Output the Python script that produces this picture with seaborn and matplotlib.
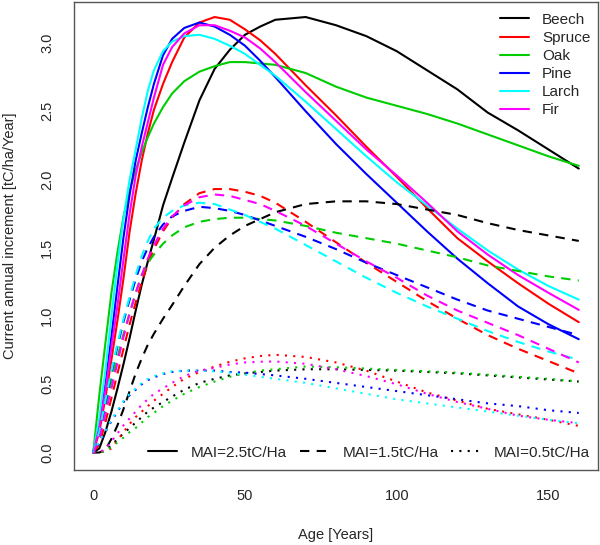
import numpy as np
import matplotlib
matplotlib.use("Agg")
import matplotlib.pyplot as plt
from matplotlib.lines import Line2D
import seaborn as sns

age = [0, 2, 4, 6, 8, 10, 12, 14, 16, 18, 20, 23, 26, 30, 35, 40, 45, 50, 55, 60,
       70, 80, 90, 100, 110, 120, 130, 140, 150, 160]

species = ["Beech", "Spruce", "Oak", "Pine", "Larch", "Fir"]
colours = ["#000000", "#FF0000", "#00CD00", "#0000FF", "#00FFFF", "#FF00FF"]

# MAI = 2.5 tC/ha (solid)
beech_25 = [0, 0.03, 0.15, 0.3, 0.47, 0.65, 0.84, 1.04, 1.23, 1.40, 1.56, 1.81, 2.01, 2.27, 2.58, 2.81, 2.95, 3.06, 3.12, 3.17,
            3.19, 3.13, 3.05, 2.94, 2.80, 2.66, 2.49, 2.36, 2.22, 2.08]
spruce_25 = [0, 0.15, 0.4, 0.68, 0.97, 1.28, 1.62, 1.90, 2.14, 2.34, 2.51, 2.70, 2.86, 3.04, 3.15, 3.19, 3.17, 3.10, 3.02, 2.92,
             2.69, 2.47, 2.24, 2.02, 1.79, 1.57, 1.40, 1.24, 1.09, 0.955]
oak_25 = [0, 0.42, 0.8, 1.17, 1.47, 1.73, 1.92, 2.07, 2.2, 2.31, 2.41, 2.53, 2.63, 2.72, 2.79, 2.83, 2.86, 2.86, 2.85, 2.84,
          2.78, 2.68, 2.60, 2.54, 2.48, 2.41, 2.33, 2.25, 2.17, 2.10]
pine_25 = [0, 0.2, 0.5, 0.85, 1.22, 1.58, 1.89, 2.14, 2.34, 2.53, 2.70, 2.91, 3.03, 3.11, 3.15, 3.12, 3.06, 2.98, 2.87, 2.75,
           2.50, 2.26, 2.04, 1.83, 1.62, 1.42, 1.24, 1.07, 0.94, 0.83]
larch_25 = [0, 0.25, 0.6, 1.0, 1.38, 1.72, 2.0, 2.22, 2.45, 2.65, 2.80, 2.94, 3.01, 3.05, 3.06, 3.03, 2.98, 2.92, 2.84, 2.76,
            2.57, 2.37, 2.17, 1.98, 1.81, 1.64, 1.48, 1.34, 1.22, 1.12]
fir_25 = [0, 0.18, 0.45, 0.77, 1.08, 1.42, 1.75, 2.03, 2.24, 2.42, 2.60, 2.84, 2.97, 3.07, 3.13, 3.13, 3.09, 3.04, 2.96, 2.86,
          2.64, 2.43, 2.22, 2.03, 1.83, 1.62, 1.45, 1.30, 1.17, 1.045]

# MAI = 1.5 tC/ha (dashed)
beech_15 = [0, 0.0, 0.02, 0.1, 0.2, 0.32, 0.45, 0.58, 0.69, 0.79, 0.87, 0.98, 1.08, 1.22, 1.38, 1.50, 1.59, 1.66, 1.71, 1.76,
            1.82, 1.84, 1.84, 1.82, 1.78, 1.74, 1.68, 1.63, 1.59, 1.55]
spruce_15 = [0, 0.06, 0.22, 0.4, 0.58, 0.76, 0.94, 1.1, 1.25, 1.38, 1.49, 1.62, 1.72, 1.82, 1.90, 1.93, 1.93, 1.91, 1.88, 1.83,
             1.69, 1.54, 1.39, 1.25, 1.11, 0.98, 0.86, 0.76, 0.67, 0.58]
oak_15 = [0, 0.14, 0.33, 0.52, 0.7, 0.87, 1.02, 1.17, 1.3, 1.39, 1.45, 1.53, 1.59, 1.65, 1.69, 1.71, 1.72, 1.72, 1.71, 1.70,
          1.66, 1.61, 1.57, 1.53, 1.48, 1.43, 1.37, 1.33, 1.29, 1.26]
pine_15 = [0, 0.14, 0.36, 0.58, 0.78, 0.96, 1.12, 1.27, 1.4, 1.5, 1.58, 1.67, 1.73, 1.77, 1.80, 1.79, 1.77, 1.74, 1.70, 1.66,
           1.58, 1.49, 1.39, 1.30, 1.21, 1.12, 1.04, 0.98, 0.92, 0.86]
larch_15 = [0, 0.15, 0.38, 0.6, 0.8, 0.98, 1.14, 1.3, 1.44, 1.55, 1.64, 1.72, 1.77, 1.81, 1.83, 1.82, 1.78, 1.74, 1.69, 1.64,
            1.52, 1.40, 1.28, 1.17, 1.07, 0.98, 0.89, 0.81, 0.74, 0.68]
fir_15 = [0, 0.1, 0.28, 0.47, 0.66, 0.85, 1.02, 1.17, 1.3, 1.42, 1.52, 1.64, 1.73, 1.81, 1.87, 1.89, 1.88, 1.85, 1.82, 1.77,
          1.66, 1.53, 1.40, 1.28, 1.15, 1.04, 0.95, 0.86, 0.76, 0.66]

# MAI = 0.5 tC/ha (dotted)
beech_05 = [0, 0.0, 0.02, 0.05, 0.1, 0.14, 0.18, 0.22, 0.26, 0.3, 0.33, 0.37, 0.41, 0.46, 0.51, 0.54, 0.565, 0.58, 0.59, 0.60,
            0.61, 0.61, 0.605, 0.60, 0.59, 0.58, 0.565, 0.55, 0.535, 0.52]
spruce_05 = [0, 0.0, 0.01, 0.03, 0.09, 0.15, 0.21, 0.26, 0.3, 0.34, 0.38, 0.43, 0.48, 0.54, 0.59, 0.63, 0.665, 0.69, 0.707, 0.716,
             0.70, 0.66, 0.60, 0.52, 0.44, 0.38, 0.32, 0.28, 0.24, 0.195]
oak_05 = [0, 0.0, 0.01, 0.04, 0.075, 0.11, 0.15, 0.18, 0.22, 0.26, 0.29, 0.34, 0.38, 0.43, 0.48, 0.52, 0.555, 0.58, 0.60, 0.61,
          0.63, 0.625, 0.615, 0.605, 0.595, 0.585, 0.57, 0.555, 0.54, 0.52]
pine_05 = [0, 0.07, 0.15, 0.23, 0.3, 0.37, 0.42, 0.46, 0.5, 0.53, 0.55, 0.575, 0.59, 0.60, 0.60, 0.60, 0.59, 0.585, 0.575, 0.565,
           0.54, 0.51, 0.48, 0.45, 0.42, 0.39, 0.36, 0.34, 0.31, 0.29]
larch_05 = [0, 0.08, 0.16, 0.24, 0.31, 0.38, 0.43, 0.47, 0.51, 0.54, 0.56, 0.58, 0.595, 0.60, 0.60, 0.595, 0.585, 0.57, 0.555, 0.54,
            0.51, 0.47, 0.43, 0.39, 0.36, 0.33, 0.30, 0.27, 0.24, 0.215]
fir_05 = [0, 0.0, 0.03, 0.08, 0.14, 0.2, 0.25, 0.3, 0.35, 0.39, 0.43, 0.47, 0.51, 0.56, 0.60, 0.62, 0.645, 0.66, 0.665, 0.667,
          0.65, 0.61, 0.56, 0.50, 0.43, 0.37, 0.32, 0.27, 0.24, 0.215]

series_25 = [beech_25, spruce_25, oak_25, pine_25, larch_25, fir_25]
series_15 = [beech_15, spruce_15, oak_15, pine_15, larch_15, fir_15]
series_05 = [beech_05, spruce_05, oak_05, pine_05, larch_05, fir_05]

mai_labels = ["MAI=2.5tC/Ha", "MAI=1.5tC/Ha", "MAI=0.5tC/Ha"]
x_ticks = [0, 50, 100, 150]
y_ticks = [0.0, 0.5, 1.0, 1.5, 2.0, 2.5, 3.0]

sns.set_style("white")
plt.rcParams['font.family'] = ['Liberation Sans', 'DejaVu Sans']
plt.rcParams['font.size'] = 10.5

fig = plt.figure(figsize=(6.0, 5.45), dpi=100)
ax = fig.add_axes([0.123, 0.1376, 0.874, 0.8587])

lw = 1.5
styles = ["-", (0, (4.5, 3.5)), (0, (1, 3))]
for grp, ls in zip([series_25, series_15, series_05], styles):
    for vals, col in zip(grp, colours):
        sns.lineplot(x=age, y=vals, color=col, linestyle=ls, linewidth=lw, ax=ax)

ax.set_xlim(-6.4, 166.4)
ax.set_ylim(-0.128, 3.30)
ax.set_xticks(x_ticks)
ax.set_xticklabels([str(t) for t in x_ticks])
ax.set_yticks(y_ticks)
ax.set_yticklabels(["%.1f" % t for t in y_ticks], rotation=90, va="center")
ax.tick_params(direction="out", length=5, width=0.8, color="#333333", labelsize=10.5, pad=9)
for s in ax.spines.values():
    s.set_color("#555555")
    s.set_linewidth(1.0)

ax.set_xlabel("Age [Years]", fontsize=10.5)
ax.xaxis.set_label_coords(0.5, -0.139)
ax.xaxis.label.set_va("center")
ax.set_ylabel("Current annual increment [tC/ha/Year]", fontsize=10.5)
ax.yaxis.set_label_coords(-0.122, 0.5)
ax.yaxis.label.set_va("center")

# species legend (top right)
sp_handles = [Line2D([], [], color=c, lw=lw) for c in colours]
leg1 = ax.legend(sp_handles, species, loc="upper right", frameon=False, fontsize=11,
                 handlelength=1.9, handletextpad=0.85, labelspacing=0.27, borderpad=0,
                 borderaxespad=0, bbox_to_anchor=(0.985, 0.977))
ax.add_artist(leg1)

# MAI legend (bottom)
mai_handles = [Line2D([], [], color="black", lw=lw, linestyle=ls) for ls in styles]
ax.legend(mai_handles, mai_labels, loc="center right", ncol=3, frameon=False, fontsize=11,
          handlelength=1.95, handletextpad=0.85, columnspacing=0.85, borderpad=0,
          borderaxespad=0, bbox_to_anchor=(0.985, 0.037))

fig.savefig("out.png", dpi=100)
